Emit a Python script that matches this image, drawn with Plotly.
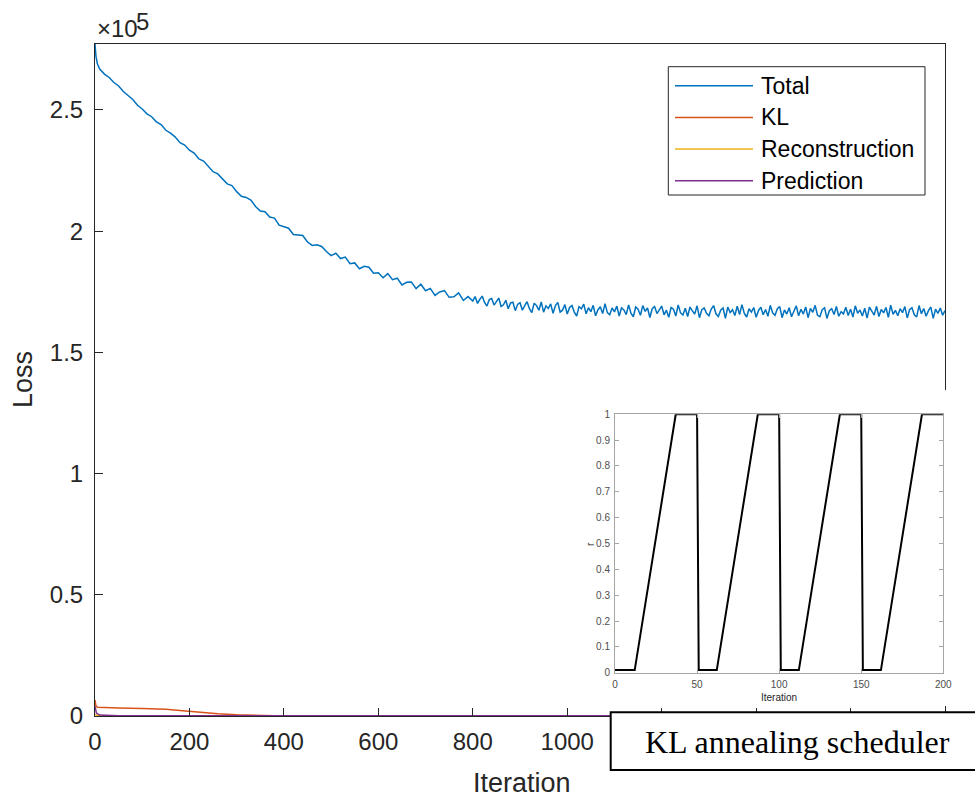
import plotly.graph_objects as go

# ---------------- data ----------------
iterations = [0, 2, 5] + list(range(10, 800, 10)) + list(range(800, 1801, 5))
total_loss_e5 = [
    2.772, 2.722, 2.690,
    # 10 .. 790 (every 10)
    2.669, 2.648, 2.634, 2.613, 2.599, 2.576, 2.560, 2.543, 2.519, 2.504,
    2.484, 2.472, 2.451, 2.440, 2.416, 2.404, 2.388, 2.365, 2.355, 2.334,
    2.322, 2.298, 2.289, 2.265, 2.245, 2.236, 2.217, 2.195, 2.188, 2.163,
    2.144, 2.139, 2.128, 2.102, 2.083, 2.080, 2.058, 2.054, 2.025, 2.019,
    2.012, 1.986, 1.985, 1.982, 1.955, 1.941, 1.944, 1.937, 1.916, 1.899,
    1.909, 1.887, 1.893, 1.866, 1.869, 1.845, 1.855, 1.851, 1.826, 1.828,
    1.808, 1.825, 1.800, 1.806, 1.778, 1.789, 1.790, 1.763, 1.781, 1.754,
    1.764, 1.735, 1.749, 1.755, 1.727, 1.729, 1.745, 1.714, 1.730,
    # 800 .. 1800 (every 5)
    1.712, 1.730, 1.702, 1.719, 1.732, 1.706, 1.691, 1.718, 1.722, 1.695,
    1.708, 1.724, 1.689, 1.696, 1.715, 1.680, 1.704, 1.707, 1.672, 1.698,
    1.705, 1.674, 1.693, 1.709, 1.680, 1.664, 1.703, 1.693, 1.674, 1.708,
    1.666, 1.692, 1.681, 1.700, 1.661, 1.693, 1.706, 1.666, 1.674, 1.697,
    1.658, 1.685, 1.693, 1.666, 1.650, 1.689, 1.680, 1.699, 1.659, 1.684,
    1.668, 1.694, 1.651, 1.675, 1.688, 1.660, 1.701, 1.664, 1.655, 1.683,
    1.667, 1.691, 1.650, 1.684, 1.675, 1.656, 1.696, 1.662, 1.647, 1.687,
    1.678, 1.653, 1.693, 1.669, 1.683, 1.644, 1.680, 1.689, 1.660, 1.674,
    1.691, 1.655, 1.674, 1.645, 1.685, 1.678, 1.650, 1.696, 1.663, 1.654,
    1.682, 1.648, 1.687, 1.671, 1.658, 1.692, 1.643, 1.676, 1.683, 1.661,
    1.651, 1.679, 1.693, 1.659, 1.648, 1.674, 1.683, 1.640, 1.687, 1.664,
    1.676, 1.652, 1.690, 1.656, 1.697, 1.661, 1.646, 1.680, 1.666, 1.685,
    1.645, 1.672, 1.686, 1.655, 1.677, 1.649, 1.694, 1.663, 1.653, 1.680,
    1.689, 1.643, 1.675, 1.658, 1.684, 1.647, 1.671, 1.692, 1.651, 1.678,
    1.658, 1.687, 1.643, 1.681, 1.665, 1.694, 1.653, 1.647, 1.676, 1.684,
    1.640, 1.672, 1.680, 1.656, 1.689, 1.649, 1.668, 1.659, 1.686, 1.652,
    1.678, 1.646, 1.692, 1.661, 1.675, 1.650, 1.682, 1.641, 1.687, 1.671,
    1.654, 1.690, 1.648, 1.677, 1.663, 1.685, 1.644, 1.695, 1.657, 1.673,
    1.651, 1.680, 1.664, 1.689, 1.642, 1.676, 1.684, 1.655, 1.646, 1.693,
    1.659, 1.681, 1.649, 1.672, 1.687, 1.640, 1.678, 1.661, 1.683, 1.653,
    1.672,
]
assert len(total_loss_e5) == len(iterations)

kl_iter = [0, 2, 5, 20, 50, 100, 130, 150, 180, 200, 230, 260, 300, 340, 380,
           450, 500, 550, 600, 800, 1000, 1200, 1400, 1600, 1800]
kl_loss_e5 = [0.066, 0.042, 0.036, 0.034, 0.033, 0.031, 0.030, 0.028, 0.023, 0.019,
              0.014, 0.009, 0.005, 0.002, 0.001, 0.001, 0.002, 0.002, 0.001, 0.001,
              0.001, 0.001, 0.001, 0.001, 0.001]

recon_iter = [0, 5, 50, 1800]
recon_loss_e5 = [0.006, 0.002, 0.001, 0.0005]

pred_iter = [0, 3, 10, 50, 1800]
pred_loss_e5 = [0.040, 0.012, 0.004, 0.001, 0.0005]

series_names = ["Total", "KL", "Reconstruction", "Prediction"]
series_colors = ["#0072BD", "#D95319", "#EDB120", "#7E2F8E"]

main_xticks = [0, 200, 400, 600, 800, 1000, 1200, 1400, 1600, 1800]
# labels from 1200 on sit under the caption box in the original figure
main_xticklabels = ["0", "200", "400", "600", "800", "1000", "", "", "", ""]
main_yticks = [0, 0.5, 1, 1.5, 2, 2.5]
main_yticklabels = ["0", "0.5", "1", "1.5", "2", "2.5"]

# KL annealing schedule (inset)
sched_iter = [0, 12, 37, 50, 51, 62, 87, 100, 101, 112, 137, 150, 151, 162, 187, 200]
sched_r = [0.01, 0.01, 1, 1, 0.01, 0.01, 1, 1, 0.01, 0.01, 1, 1, 0.01, 0.01, 1, 1]
inset_xticks = [0, 50, 100, 150, 200]
inset_yticks = [0, 0.1, 0.2, 0.3, 0.4, 0.5, 0.6, 0.7, 0.8, 0.9, 1]
inset_yticklabels = ["0", "0.1", "0.2", "0.3", "0.4", "0.5", "0.6", "0.7", "0.8", "0.9", "1"]

# ---------------- layout helpers ----------------
W, H = 975, 797
ML, MR, MT, MB = 95, 20, 44, 81
PW = W - ML - MR
PH = H - MT - MB


def px(x):
    return (x - ML) / PW


def py(y):
    return (H - MB - y) / PH


AX = "#262626"
FONT = "Liberation Sans, Arial, Helvetica, sans-serif"

fig = go.Figure()

series = [
    (iterations, total_loss_e5),
    (kl_iter, kl_loss_e5),
    (recon_iter, recon_loss_e5),
    (pred_iter, pred_loss_e5),
]
for (xs, ys), name, col in zip(series, series_names, series_colors):
    fig.add_trace(go.Scatter(x=xs, y=ys, mode="lines", name=name,
                             line=dict(color=col, width=1.5),
                             xaxis="x", yaxis="y", showlegend=False))

# cover subplot (white background that hides the main box behind the inset)
fig.add_trace(go.Scatter(x=[], y=[], xaxis="x2", yaxis="y2", showlegend=False))

# inset
fig.add_trace(go.Scatter(x=sched_iter, y=sched_r, mode="lines",
                         line=dict(color="black", width=2),
                         xaxis="x3", yaxis="y3", showlegend=False))

main_axis = dict(showline=True, linecolor=AX, linewidth=1, mirror=True,
                 ticks="inside", ticklen=8, tickcolor=AX, tickwidth=1,
                 showgrid=False, zeroline=False, automargin=False,
                 tickfont=dict(size=24, color=AX, family=FONT))

inset_axis = dict(showline=True, linecolor="#a6a6a6", linewidth=1, mirror="ticks",
                  ticks="inside", ticklen=4, tickcolor="#a6a6a6", tickwidth=1,
                  showgrid=False, zeroline=False, automargin=False,
                  tickfont=dict(size=10, color="#4d4d4d", family=FONT))

fig.update_layout(
    width=W, height=H,
    margin=dict(l=ML, r=MR, t=MT, b=MB, autoexpand=False),
    paper_bgcolor="white", plot_bgcolor="white",
    font=dict(family=FONT, color=AX),
    showlegend=False,
    xaxis=dict(main_axis, domain=[0, px(945)], range=[0, 1800], anchor="y",
               tickvals=main_xticks, ticktext=main_xticklabels, ticklabelstandoff=4),
    yaxis=dict(main_axis, domain=[0, 1], range=[0, 2.772], anchor="x",
               tickvals=main_yticks, ticktext=main_yticklabels, ticklabelstandoff=6),
    xaxis2=dict(domain=[px(585), 1], range=[0, 1], anchor="y2", visible=False,
                automargin=False),
    yaxis2=dict(domain=[py(706), py(390)], range=[0, 1], anchor="x2", visible=False,
                automargin=False),
    xaxis3=dict(inset_axis, domain=[px(615), px(943.3)], range=[0, 200], anchor="y3",
                tickvals=inset_xticks, ticklabelstandoff=2),
    yaxis3=dict(inset_axis, domain=[py(672.7), py(414.3)], range=[0, 1], anchor="x3",
                tickvals=inset_yticks, ticktext=inset_yticklabels, ticklabelstandoff=2),
)

shapes = []
annotations = []

# manual MATLAB-style legend
leg_x0, leg_x1, leg_y0, leg_y1 = 668.3, 925, 66.7, 195
shapes.append(dict(type="rect", xref="paper", yref="paper",
                   x0=px(leg_x0), x1=px(leg_x1), y0=py(leg_y1), y1=py(leg_y0),
                   line=dict(color=AX, width=1), fillcolor="white", layer="above"))
leg_first, leg_step = 85.7, 31.7
for i, (name, col) in enumerate(zip(series_names, series_colors)):
    yy = leg_first + i * leg_step
    shapes.append(dict(type="line", xref="paper", yref="paper",
                       x0=px(675), x1=px(753), y0=py(yy), y1=py(yy),
                       line=dict(color=col, width=1.5), layer="above"))
    annotations.append(dict(text=name, xref="paper", yref="paper", x=px(759), y=py(yy),
                            xanchor="left", yanchor="middle", showarrow=False,
                            font=dict(size=23, color="black", family=FONT)))

# "KL annealing scheduler" caption box
shapes.append(dict(type="rect", xref="paper", yref="paper",
                   x0=px(610.7), x1=px(990), y0=py(770), y1=py(712.3),
                   line=dict(color="black", width=2), fillcolor="white", layer="above"))
annotations.append(dict(text="KL annealing scheduler", xref="paper", yref="paper",
                        x=px(797.5), y=py(742), xanchor="center", yanchor="middle",
                        showarrow=False,
                        font=dict(size=32, color="black",
                                  family="Liberation Serif, Times New Roman, serif")))

# axis titles
annotations.append(dict(text="Loss", xref="paper", yref="paper", x=px(23), y=py(380),
                        textangle=-90, xanchor="center", yanchor="middle", showarrow=False,
                        font=dict(size=27, color=AX, family=FONT)))
annotations.append(dict(text="Iteration", xref="paper", yref="paper", x=px(522), y=py(783),
                        xanchor="center", yanchor="middle", showarrow=False,
                        font=dict(size=27, color=AX, family=FONT)))
# exponent label
annotations.append(dict(text="×10", xref="paper", yref="paper", x=px(95), y=py(29),
                        xanchor="left", yanchor="middle", showarrow=False,
                        font=dict(size=24, color=AX, family=FONT)))
annotations.append(dict(text="5", xref="paper", yref="paper", x=px(134), y=py(22),
                        xanchor="left", yanchor="middle", showarrow=False,
                        font=dict(size=24, color=AX, family=FONT)))
# inset titles
annotations.append(dict(text="Iteration", xref="paper", yref="paper", x=px(779), y=py(697),
                        xanchor="center", yanchor="middle", showarrow=False,
                        font=dict(size=10, color=AX, family=FONT)))
annotations.append(dict(text="r", xref="paper", yref="paper", x=px(590), y=py(544),
                        textangle=-90, xanchor="center", yanchor="middle", showarrow=False,
                        font=dict(size=10, color=AX, family=FONT)))

fig.update_layout(shapes=shapes, annotations=annotations)

fig.write_html("out.html", config={"displayModeBar": False},
               post_script="document.body.style.margin='0';document.body.style.overflow='hidden';")
